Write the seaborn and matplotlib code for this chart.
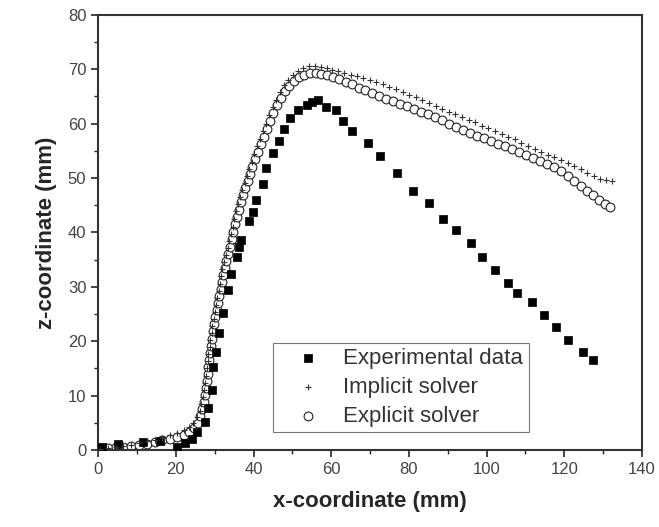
import matplotlib
matplotlib.use("Agg")
import matplotlib.pyplot as plt
import seaborn as sns
from matplotlib.ticker import MultipleLocator

# Experimental data (squares)
exp_x = [1.0, 5.1, 11.6, 16.0, 20.3, 22.4, 24.2, 25.5, 27.5, 28.3, 29.3, 29.6, 30.4, 31.1,
         32.2, 33.5, 34.2, 35.8, 36.3, 36.8, 38.9, 39.9, 40.7, 42.5, 43.2, 45.0, 46.6, 47.9,
         49.4, 51.5, 53.8, 55.1, 56.6, 58.6, 61.3, 63.0, 65.4, 69.5, 72.6, 76.9, 81.1, 85.2,
         88.8, 92.1, 96.0, 98.8, 102.2, 105.5, 107.8, 111.7, 114.8, 117.9, 120.9, 124.8, 127.4]
exp_z = [0.5, 1.1, 1.5, 1.7, 0.6, 1.3, 2.0, 3.3, 5.1, 7.7, 11.0, 15.3, 18.0, 21.5,
         25.2, 29.4, 32.4, 35.5, 37.3, 38.6, 42.1, 43.8, 46.0, 48.9, 51.8, 54.6, 56.8, 59.0,
         61.0, 62.5, 63.5, 64.0, 64.4, 63.0, 62.5, 60.5, 58.6, 56.4, 54.0, 50.9, 47.6, 45.4,
         42.5, 40.4, 38.1, 35.5, 33.1, 30.7, 28.9, 27.2, 24.8, 22.6, 20.2, 18.0, 16.5]

# Implicit solver (plus signs)
imp_x = [0.5, 2.5, 4.5, 6.5, 8.5, 10.5, 12.5, 14.5, 16.5, 18.5, 20.3, 22.0, 23.4, 24.5,
         25.4, 26.1, 26.6, 27.0, 27.3, 27.6, 27.8, 28.0, 28.2, 28.4, 28.7, 28.9, 29.2, 29.4,
         29.7, 30.0, 30.3, 30.6, 31.0, 31.3, 31.7, 32.0, 32.4, 32.8, 33.3, 33.7, 34.2, 34.6,
         35.1, 35.6, 36.1, 36.6, 37.1, 37.7, 38.3, 38.9, 39.5, 40.2, 40.9, 41.6, 42.4, 43.2,
         44.0, 44.9, 45.8, 46.8, 47.8, 48.9, 50.1, 51.4, 52.8, 54.3, 55.8, 57.3, 58.8, 60.3,
         61.8, 63.4, 65.0, 66.6, 68.2, 69.9, 71.6, 73.3, 75.0, 76.7, 78.4, 80.1, 81.8, 83.5,
         85.2, 86.9, 88.6, 90.3, 92.0, 93.7, 95.4, 97.1, 98.8, 100.5, 102.2, 103.9, 105.6,
         107.3, 109.0, 110.7, 112.4, 114.1, 115.8, 117.5, 119.2, 120.9, 122.6, 124.3, 126.0,
         127.6, 129.2, 130.8, 132.4]
imp_z = [0.2, 0.4, 0.6, 0.8, 1.0, 1.3, 1.6, 1.9, 2.3, 2.7, 3.1, 3.6, 4.2, 5.0,
         6.0, 7.2, 8.5, 9.8, 11.1, 12.4, 13.7, 15.0, 16.3, 17.6, 18.9, 20.2, 21.5, 22.8,
         24.1, 25.4, 26.7, 28.0, 29.3, 30.6, 31.9, 33.2, 34.5, 35.8, 37.1, 38.4, 39.7, 41.0,
         42.5, 43.9, 45.2, 46.5, 47.8, 49.1, 50.4, 51.7, 53.0, 54.4, 55.8, 57.2, 58.6, 60.0,
         61.5, 63.0, 64.4, 65.8, 67.0, 68.1, 69.0, 69.7, 70.2, 70.5, 70.5, 70.4, 70.2, 69.9,
         69.6, 69.3, 69.0, 68.7, 68.4, 68.0, 67.6, 67.2, 66.8, 66.3, 65.8, 65.3, 64.8, 64.3,
         63.7, 63.2, 62.7, 62.2, 61.7, 61.2, 60.7, 60.2, 59.6, 59.1, 58.6, 58.1, 57.6,
         57.1, 56.5, 55.9, 55.4, 54.8, 54.3, 53.8, 53.3, 52.8, 52.2, 51.6, 51.0,
         50.4, 49.9, 49.6, 49.4]

# Explicit solver (open circles)
expl_x = [0.5, 2.5, 4.5, 6.5, 8.5, 10.5, 12.5, 14.5, 16.5, 18.5, 20.3, 22.0, 23.5, 24.7,
          25.6, 26.3, 26.8, 27.2, 27.5, 27.8, 28.0, 28.2, 28.4, 28.6, 28.9, 29.1, 29.4, 29.6,
          29.9, 30.2, 30.5, 30.8, 31.2, 31.5, 31.9, 32.2, 32.6, 33.0, 33.5, 33.9, 34.4, 34.8,
          35.3, 35.8, 36.3, 36.8, 37.3, 37.9, 38.5, 39.1, 39.7, 40.4, 41.1, 41.8, 42.6, 43.4,
          44.2, 45.1, 46.0, 47.0, 48.0, 49.1, 50.3, 51.6, 53.0, 54.5, 56.0, 57.5, 59.0, 60.5,
          62.0, 63.7, 65.4, 67.1, 68.8, 70.6, 72.4, 74.2, 76.0, 77.8, 79.6, 81.4, 83.2, 85.0,
          86.8, 88.6, 90.4, 92.2, 94.0, 95.8, 97.6, 99.4, 101.2, 103.0, 104.8, 106.6, 108.4,
          110.2, 112.0, 113.8, 115.6, 117.4, 119.2, 121.0, 122.6, 124.2, 125.8, 127.4, 128.9,
          130.4, 131.8]
expl_z = [0.3, 0.4, 0.5, 0.6, 0.8, 1.0, 1.2, 1.5, 1.8, 2.1, 2.4, 2.8, 3.3, 4.0,
          5.0, 6.2, 7.5, 8.8, 10.1, 11.4, 12.7, 14.0, 15.3, 16.6, 17.9, 19.2, 20.5, 21.8,
          23.1, 24.4, 25.7, 27.0, 28.3, 29.6, 30.9, 32.2, 33.5, 34.8, 36.1, 37.4, 38.7, 40.0,
          41.5, 42.9, 44.2, 45.5, 46.8, 48.1, 49.4, 50.7, 52.0, 53.4, 54.8, 56.2, 57.6, 59.0,
          60.5, 62.0, 63.4, 64.7, 65.9, 66.9, 67.8, 68.5, 69.0, 69.3, 69.3, 69.2, 69.0, 68.6,
          68.2, 67.7, 67.2, 66.6, 66.1, 65.6, 65.1, 64.6, 64.1, 63.6, 63.2, 62.7, 62.2, 61.7,
          61.2, 60.6, 60.0, 59.4, 58.8, 58.3, 57.8, 57.3, 56.8, 56.3, 55.8, 55.3, 54.8,
          54.2, 53.7, 53.2, 52.6, 52.0, 51.2, 50.4, 49.5, 48.6, 47.7, 46.8, 45.9,
          45.2, 44.6]

sns.set_style("ticks")
plt.rcParams['font.family'] = ['Liberation Sans', 'DejaVu Sans']

fig = plt.figure(figsize=(6.59, 5.27), dpi=100)
ax = fig.add_axes([0.149, 0.146, 0.825, 0.826])

sns.scatterplot(x=exp_x, y=exp_z, marker='s', s=34, color='black', edgecolor='black',
                linewidth=0.5, label='Experimental data', ax=ax, zorder=3)
sns.scatterplot(x=imp_x, y=imp_z, marker='+', s=22, color='#333333', linewidth=0.8,
                label='Implicit solver', ax=ax, zorder=4)
sns.scatterplot(x=expl_x, y=expl_z, marker='o', s=40, facecolor='white', edgecolor='#222222',
                linewidth=0.8, label='Explicit solver', ax=ax, zorder=2)

ax.set_xlim(0, 140)
ax.set_ylim(0, 80)
ax.xaxis.set_major_locator(MultipleLocator(20))
ax.xaxis.set_minor_locator(MultipleLocator(10))
ax.yaxis.set_major_locator(MultipleLocator(10))
ax.yaxis.set_minor_locator(MultipleLocator(5))
ax.tick_params(which='major', direction='out', length=5, width=1.2, labelsize=12,
               labelcolor='#444444', top=False, right=False)
ax.tick_params(which='minor', direction='out', length=3, width=1.0, top=False, right=False)
for sp in ax.spines.values():
    sp.set_linewidth(1.5)
    sp.set_color('#333333')

ax.set_xlabel('x-coordinate (mm)', fontsize=16, fontweight='bold', labelpad=10)
ax.set_ylabel('z-coordinate (mm)', fontsize=16, fontweight='bold', labelpad=8)

leg = ax.legend(loc='lower left', bbox_to_anchor=(0.322, 0.041), fontsize=16,
                frameon=True, fancybox=False, edgecolor='#777777', framealpha=1,
                handletextpad=0.3, labelspacing=0.35, borderpad=0.25, handlelength=2.6,
                borderaxespad=0)
leg.get_frame().set_linewidth(0.8)
for t in leg.get_texts():
    t.set_color('#333333')

fig.savefig('out.png', dpi=100)
